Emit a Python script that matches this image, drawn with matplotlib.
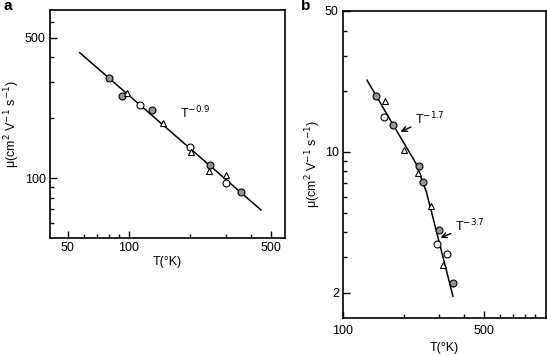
import numpy as np
import matplotlib.pyplot as plt
from matplotlib.ticker import FixedLocator, NullFormatter

plt.rcParams['font.family'] = ['Liberation Sans', 'DejaVu Sans']
plt.rcParams['font.size'] = 9

# panel a data (T in K, mobility)
a_circ_gray_T = [80, 93, 130, 250, 355]
a_circ_gray_mu = [316, 255, 219, 116, 85]
a_circ_open_T = [114, 200, 299]
a_circ_open_mu = [232, 143, 95]
a_tri_T = [98.5, 148, 202, 248, 300]
a_tri_mu = [264, 188, 134.5, 109, 104]
a_line_T = [57.4, 447]
a_line_mu = [421, 69.3]

# panel b data
b_circ_gray_T = [146.5, 176.5, 238, 250, 299, 351]
b_circ_gray_mu = [19.0, 13.6, 8.55, 7.1, 4.12, 2.24]
b_circ_open_T = [160.5, 294, 329]
b_circ_open_mu = [14.9, 3.5, 3.1]
b_tri_T = [161, 202, 237, 275, 315]
b_tri_mu = [17.9, 10.2, 7.83, 5.41, 2.74]
b_line_T = [131.6, 180, 230, 260, 352]
b_line_mu = [22.7, 13.3, 8.8, 6.3, 1.92]

fig = plt.figure(figsize=(5.47, 3.56), dpi=100)
ax1 = fig.add_axes([50/547, 1 - 238/356, 235/547, 228/356])
ax2 = fig.add_axes([343/547, 1 - 318/356, 203/547, 307/356])

gray = '#949494'
ms = 5


def draw(ax, lT, lmu, gT, gmu, oT, omu, tT, tmu):
    ax.plot(lT, lmu, 'k-', lw=1.1, zorder=1)
    ax.plot(gT, gmu, 'o', ms=ms, mfc=gray, mec='k', mew=0.8, zorder=3)
    ax.plot(oT, omu, 'o', ms=ms, mfc='white', mec='k', mew=0.8, zorder=3)
    ax.plot(tT, tmu, '^', ms=ms, mfc='white', mec='k', mew=0.8, zorder=3)
    ax.set_xscale('log')
    ax.set_yscale('log')
    for s in ax.spines.values():
        s.set_linewidth(1.2)
    ax.tick_params(which='both', direction='in', top=False, right=False, width=1)
    ax.tick_params(which='major', length=5, pad=3)
    ax.tick_params(which='minor', length=3)


draw(ax1, a_line_T, a_line_mu, a_circ_gray_T, a_circ_gray_mu,
     a_circ_open_T, a_circ_open_mu, a_tri_T, a_tri_mu)
ax1.set_xlabel('T(°K)', labelpad=1)
ax1.set_ylabel('μ(cm$^2$ V$^{-1}$ s$^{-1}$)', labelpad=2)
ax1.set_xlim(41, 586)
ax1.set_ylim(50.3, 687)
ax1.xaxis.set_major_locator(FixedLocator([50, 100, 500]))
ax1.xaxis.set_minor_locator(FixedLocator([60, 70, 80, 90, 200, 300, 400]))
ax1.set_xticklabels(['50', '100', '500'])
ax1.yaxis.set_major_locator(FixedLocator([100, 500]))
ax1.yaxis.set_minor_locator(FixedLocator([60, 70, 80, 90, 200, 300, 400, 600]))
ax1.set_yticklabels(['100', '500'])
ax1.xaxis.set_minor_formatter(NullFormatter())
ax1.yaxis.set_minor_formatter(NullFormatter())
ax1.text(178, 211, 'T$^{-0.9}$', va='center')

draw(ax2, b_line_T, b_line_mu, b_circ_gray_T, b_circ_gray_mu,
     b_circ_open_T, b_circ_open_mu, b_tri_T, b_tri_mu)
ax2.tick_params(axis='x', which='major', pad=5)
ax2.set_xlabel('T(°K)', labelpad=4)
ax2.set_ylabel('μ(cm$^2$ V$^{-1}$ s$^{-1}$)', labelpad=1)
ax2.set_xlim(100, 1020)
ax2.set_ylim(1.5, 50)
ax2.xaxis.set_major_locator(FixedLocator([100, 500]))
ax2.xaxis.set_minor_locator(FixedLocator([200, 300, 400, 600, 700, 800, 900]))
ax2.set_xticklabels(['100', '500'])
ax2.yaxis.set_major_locator(FixedLocator([2, 10, 50]))
ax2.yaxis.set_minor_locator(FixedLocator([3, 4, 5, 6, 7, 8, 9, 20, 30, 40]))
ax2.set_yticklabels(['2', '10', '50'])
ax2.xaxis.set_minor_formatter(NullFormatter())
ax2.yaxis.set_minor_formatter(NullFormatter())
ax2.annotate('T$^{-1.7}$', xy=(193, 12.6), xytext=(228, 14.6),
             arrowprops=dict(arrowstyle='->', color='k', lw=1, shrinkA=1, shrinkB=0),
             va='center')
ax2.annotate('T$^{-3.7}$', xy=(305, 3.75), xytext=(360, 4.3),
             arrowprops=dict(arrowstyle='->', color='k', lw=1, shrinkA=1, shrinkB=0),
             va='center')

fig.text(3/547, 1 - 10/356, 'a', fontsize=11, fontweight='bold')
fig.text(301/547, 1 - 10/356, 'b', fontsize=11, fontweight='bold')

fig.savefig('out.png', dpi=100)
